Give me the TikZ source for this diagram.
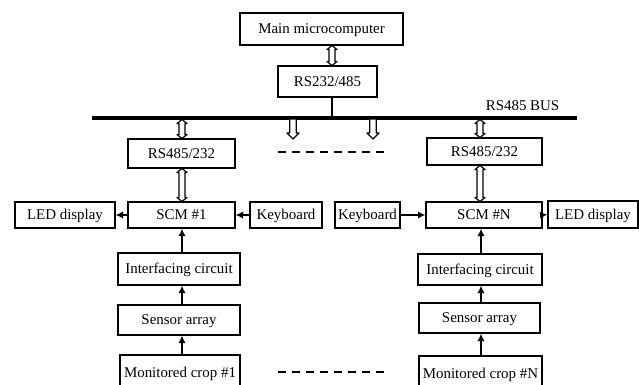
\documentclass[tikz,border=0pt]{standalone}
\usepackage{fontspec}
\setmainfont{Liberation Serif}
\usetikzlibrary{arrows.meta}
\tikzset{
  box/.style={draw, line width=1pt, inner sep=0pt, text height=7.6pt, text depth=0.4pt, font=\fontsize{11.2}{13}\selectfont},
  hollow/.style={draw, fill=white, line width=0.9pt, line join=round},
  sarr/.style={line width=1.2pt, -{Latex[length=5.5pt,width=5.5pt]}},
  busline/.style={line width=2.6pt},
  dashline/.style={line width=1.4pt, dash pattern=on 6pt off 4.5pt}
}
\newcommand\mybox[7]{% name, x1,y1,x2,y2, text
  \node[box, minimum width={(#4-#2)*0.75pt}, minimum height={(#5-#3)*0.75pt}] (#1) at ({(#2+#4)/2},{(#3+#5)/2}) {#6};}
% hollow double arrow between named points #1 (top) and #2 (bottom)
\newcommand\dblarrow[2]{%
  \path[hollow] (#1) -- ++(5,4) -- ++(-2,0) |- ($(#2)+(3,-4)$) -- ++(2,0) -- (#2)
    -- ++(-5,-4) -- ++(2,0) |- ($(#1)+(-3,4)$) -- ++(-2,0) -- cycle;}
\newcommand\dwnarrow[2]{%
  \path[hollow] ($(#1)+(-3.2,0)$) |- ($(#2)+(-6,-6)$) -- (#2) -- ++(6,-6) -| ($(#1)+(3.2,0)$);}
\usetikzlibrary{calc}
\begin{document}
\begin{tikzpicture}[x=0.75pt,y=-0.75pt]
\clip (0,0) rectangle (639,385);
\fill[white] (0,0) rectangle (639,385);
% top
\mybox{main}{240}{13}{403}{45}{Main microcomputer}{}
\mybox{rs232}{278}{66}{377}{97}{RS232/485}{}
% bus
\coordinate (busL) at (92,118);
\coordinate (busR) at (577,118);
\draw[line width=1.3pt] (rs232.south -| 332,0) -- (332,118);
\draw[busline] (busL) -- (busR);
\node[font=\fontsize{11.2}{13}\selectfont, anchor=base east] (buslabel) at (564,110) {RS485 BUS};
% left column
\mybox{rsL}{128}{139}{235}{168}{RS485/232}{}
\mybox{scmL}{128}{202}{235}{228}{SCM \#1}{}
\mybox{ledL}{15}{202}{115}{228}{LED display}{}
\mybox{kbL}{250}{202}{322}{228}{Keyboard}{}
\mybox{intL}{118}{253}{240}{285}{Interfacing circuit}{}
\mybox{senL}{118}{305}{240}{335}{Sensor array}{}
\mybox{cropL}{120}{355}{240}{391}{Monitored crop \#1}{}
% right column
\mybox{rsR}{427}{138}{542}{165}{RS485/232}{}
\mybox{scmR}{426}{202}{542}{228}{SCM \#N}{}
\mybox{kbR}{335}{202}{400}{228}{Keyboard}{}
\mybox{ledR}{548}{201}{638}{228}{LED display}{}
\mybox{intR}{418}{254}{542}{285}{Interfacing circuit}{}
\mybox{senR}{419}{303}{540}{333}{Sensor array}{}
\mybox{cropR}{419}{356}{542}{391}{Monitored crop \#N}{}
% double arrows
\coordinate (m1) at (332,45.5); \coordinate (m2) at (332,65.5);
\dblarrow{m1}{m2}
\coordinate (bL) at (182,119.5); \coordinate (bLe) at (182,138.5);
\coordinate (bR) at (480,119.5); \coordinate (bRe) at (480,137.5);
\dblarrow{bL}{bLe}
\dblarrow{bR}{bRe}
\coordinate (sL1) at (182,168.5); \coordinate (sL2) at (182,201.5);
\coordinate (sR1) at (480,165.5); \coordinate (sR2) at (480,201.5);
\dblarrow{sL1}{sL2}
\dblarrow{sR1}{sR2}
\coordinate (b1) at (293,119.5); \coordinate (d1) at (293,139);
\coordinate (b2) at (373,119.5); \coordinate (d2) at (373,139);
\dwnarrow{b1}{d1}
\dwnarrow{b2}{d2}
% dashed
\coordinate (da) at (278,152); \coordinate (db) at (390,152);
\draw[dashline] (da) -- (db);
\coordinate (dc) at (278,372); \coordinate (dd) at (390,372);
\draw[dashline] (dc) -- (dd);
% left arrows
\draw[sarr] (scmL.west) -- (ledL.east);
\draw[sarr] (kbL.west) -- (scmL.east);
\draw[sarr] (intL.north -| 182,0) -- (scmL.south -| 182,0);
\draw[sarr] (senL.north -| 182,0) -- (intL.south -| 182,0);
\draw[sarr] (cropL.north -| 182,0) -- (senL.south -| 182,0);
% right arrows
\draw[sarr] (kbR.east) -- (scmR.west);
\draw[sarr] (scmR.east) -- (ledR.west);
\draw[sarr] (intR.north -| 481,0) -- (scmR.south -| 481,0);
\draw[sarr] (senR.north -| 481,0) -- (intR.south -| 481,0);
\draw[sarr] (cropR.north -| 481,0) -- (senR.south -| 481,0);
\end{tikzpicture}
\end{document}
